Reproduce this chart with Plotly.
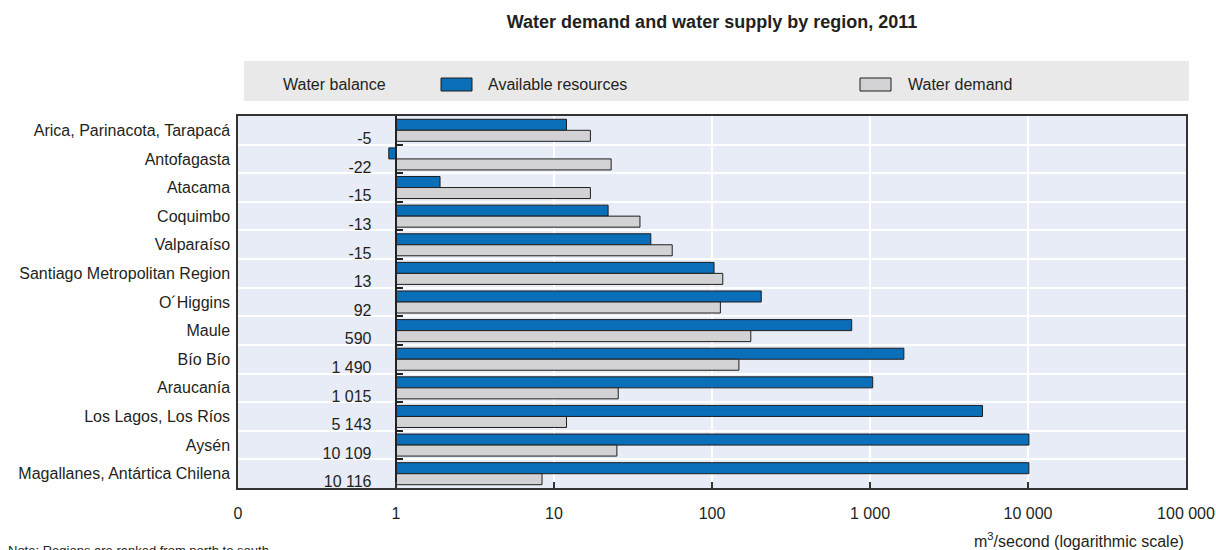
import plotly.graph_objects as go

# ---- data -------------------------------------------------------------
regions = [
    "Arica, Parinacota, Tarapacá", "Antofagasta", "Atacama", "Coquimbo",
    "Valparaíso", "Santiago Metropolitan Region", "O´Higgins", "Maule",
    "Bío Bío", "Araucanía", "Los Lagos, Los Ríos", "Aysén",
    "Magallanes, Antártica Chilena",
]
available = [12, 0.9, 1.9, 22, 41, 103, 205, 766, 1638, 1040, 5155, 10134, 10124]
demand = [17, 23, 17, 35, 56, 117, 113, 176, 148, 25.5, 12, 25, 8.4]
balance = ["-5", "-22", "-15", "-13", "-15", "13", "92", "590",
           "1 490", "1 015", "5 143", "10 109", "10 116"]
tick_vals = [0.1, 1, 10, 100, 1000, 10000, 100000]
tick_text = ["0", "1", "10", "100", "1 000", "10 000", "100 000"]

# ---- style ------------------------------------------------------------
BLUE = "#0a6eb8"
GREY = "#d2d2d4"
EDGE = "#1e1e1e"
TXT = "#231f20"
PLOT_BG = "#e8ecf6"
LEGEND_BG = "#e9e9e9"
FONT = "Liberation Sans, Arial, sans-serif"

W, H = 1216, 550
L, R, T, B = 238, 1186, 116, 488   # plot area in pixels


def px_x(p):
    return (p - L) / (R - L)


def px_y(p):
    return (B - p) / (B - T)


LABEL_X = 0.7       # axis value where the balance labels end
LABEL_SHIFT = 0.34  # balance labels sit alongside the demand bar

fig = go.Figure()

fig.add_trace(go.Bar(
    y=regions, x=[v - 1 for v in available], base=1, orientation="h",
    name="Available resources", showlegend=False,
    marker=dict(color=BLUE, line=dict(color=EDGE, width=1)),
    customdata=available, hovertemplate="%{y}: %{customdata}<extra></extra>",
))
fig.add_trace(go.Bar(
    y=regions, x=[v - 1 for v in demand], base=1, orientation="h",
    name="Water demand", showlegend=False,
    marker=dict(color=GREY, line=dict(color=EDGE, width=1)),
    customdata=demand, hovertemplate="%{y}: %{customdata}<extra></extra>",
))
fig.add_trace(go.Scatter(
    x=[LABEL_X] * len(regions), y=[i + LABEL_SHIFT for i in range(len(regions))],
    yaxis="y2", mode="text", text=balance, textposition="middle left",
    textfont=dict(size=16, color=TXT, family=FONT),
    name="Water balance", showlegend=False, hoverinfo="skip",
))

n = len(regions)
fig.update_layout(
    template="none",
    width=W, height=H,
    margin=dict(l=L, r=W - R, t=T, b=H - B, pad=0, autoexpand=False),
    paper_bgcolor="white", plot_bgcolor=PLOT_BG,
    font=dict(family=FONT, size=16, color=TXT),
    barmode="group", bargap=0.23, bargroupgap=0,
    title=dict(
        text="<b>Water demand and water supply by region, 2011</b>",
        x=712 / W, xanchor="center", xref="container",
        y=1 - 22 / H, yanchor="middle", yref="container",
        font=dict(family=FONT, size=18, color=TXT),
    ),
    xaxis=dict(
        type="log", range=[-1, 5], automargin=False,
        tickvals=tick_vals, ticktext=tick_text,
        ticks="inside", ticklen=6, tickwidth=1.5, tickcolor="#333",
        ticklabelstandoff=10,
        showgrid=True, gridcolor="white", gridwidth=2,
        showline=True, mirror=True, linecolor="#333", linewidth=1.5,
        zeroline=False, tickfont=dict(size=16, color=TXT),
    ),
    yaxis=dict(
        type="category", range=[n - 0.5, -0.5], automargin=False,
        tickson="boundaries", ticks="", ticklabelstandoff=3,
        showgrid=True, gridcolor="white", gridwidth=2,
        showline=True, mirror=True, linecolor="#333", linewidth=1.5,
        zeroline=False, tickfont=dict(size=16, color=TXT),
    ),
    yaxis2=dict(
        overlaying="y", anchor="free", position=1 / 6, side="left",
        range=[n - 0.5, -0.5], automargin=False,
        tickvals=[i - 0.5 for i in range(n + 1)],
        ticks="inside", ticklen=6, tickwidth=2, tickcolor="#222",
        showticklabels=False, showgrid=False, zeroline=False,
        showline=True, linecolor="#222", linewidth=2,
    ),
    showlegend=False,
)

# ---- key band above the plot ---------------------------------------------
shapes = [
    dict(type="rect", xref="paper", yref="paper",
         x0=px_x(244), x1=px_x(1189), y0=px_y(101), y1=px_y(61),
         fillcolor=LEGEND_BG, line=dict(width=0)),
    dict(type="rect", xref="paper", yref="paper",
         x0=px_x(441), x1=px_x(472), y0=px_y(91), y1=px_y(78),
         fillcolor=BLUE, line=dict(color=EDGE, width=1)),
    dict(type="rect", xref="paper", yref="paper",
         x0=px_x(860), x1=px_x(891), y0=px_y(91), y1=px_y(78),
         fillcolor=GREY, line=dict(color=EDGE, width=1)),
]
fig.update_layout(shapes=shapes)

annotations = [
    dict(text="Water balance", x=px_x(388), y=px_y(84), xanchor="right"),
    dict(text="Available resources", x=px_x(486), y=px_y(84), xanchor="left"),
    dict(text="Water demand", x=px_x(906), y=px_y(84), xanchor="left"),
    dict(text="m<sup>3</sup>/second (logarithmic scale)", x=1, y=px_y(540),
         xanchor="right"),
    dict(text="Note: Regions are ranked from north to south.", x=px_x(6),
         y=px_y(550), xanchor="left", font=dict(size=13, color=TXT)),
]
for a in annotations:
    a.setdefault("font", dict(size=16, color=TXT))
    fig.add_annotation(xref="paper", yref="paper", yanchor="middle",
                       showarrow=False, **a)

fig.write_html("out.html")
